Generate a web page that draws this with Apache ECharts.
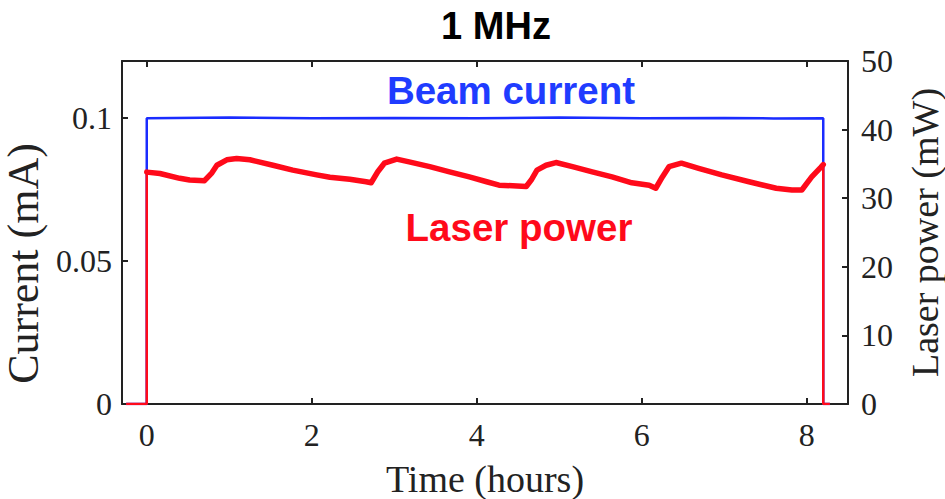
<!DOCTYPE html>
<html>
<head>
<meta charset="utf-8">
<script src="https://cdn.jsdelivr.net/npm/echarts@6/dist/echarts.min.js"></script>
<style>html,body{margin:0;padding:0;background:#fff}#c{width:945px;height:499px}</style>
</head>
<body>
<div id="c"></div>
<script>
// ---- data ----
var xTickValues = [0, 2, 4, 6, 8];
var currentTickValues = [0, 0.05, 0.1];
var powerTickValues = [0, 10, 20, 30, 40, 50];

var beamTime = [-0.25, 0, 0, 1.0, 2.0, 3.0, 4.0, 5.0, 6.0, 7.0, 7.6, 8.2, 8.2, 8.28];
var beamCurrent = [0, 0, 0.1, 0.1002, 0.1, 0.1001, 0.1, 0.1002, 0.1, 0.1001, 0.0999, 0.1, 0, 0];

var laserTime = [-0.25, 0, 0, 0.16, 0.40, 0.52, 0.70, 0.79, 0.85, 0.97, 1.09, 1.25, 1.53, 1.77, 2.06, 2.22, 2.46, 2.66, 2.72, 2.80, 2.88, 3.03, 3.18, 3.43, 3.67, 3.91, 4.12, 4.27, 4.60, 4.66, 4.73, 4.84, 4.96, 5.16, 5.40, 5.64, 5.88, 6.09, 6.17, 6.25, 6.33, 6.48, 6.69, 6.97, 7.30, 7.63, 7.82, 7.94, 8.06, 8.17, 8.20, 8.20, 8.28];
var laserPower = [0, 0, 33.8, 33.6, 32.9, 32.65, 32.55, 33.7, 34.8, 35.6, 35.8, 35.6, 34.8, 34.1, 33.4, 33.05, 32.75, 32.4, 32.25, 33.85, 35.1, 35.7, 35.3, 34.6, 33.85, 33.1, 32.4, 31.9, 31.7, 32.65, 34.1, 34.8, 35.2, 34.6, 33.85, 33.1, 32.25, 31.9, 31.45, 33.1, 34.6, 35.1, 34.35, 33.4, 32.4, 31.45, 31.2, 31.2, 33.1, 34.5, 34.9, 0, 0];

function pairs(xs, ys) { return xs.map(function (x, i) { return [x, ys[i]]; }); }
var laserAll = pairs(laserTime, laserPower);
var laserMain = laserAll.slice(2, laserAll.length - 2);
var laserRise = laserAll.slice(0, 3);
var laserFall = laserAll.slice(laserAll.length - 3);

var serif = 'Liberation Serif';
var sans = 'Liberation Sans';
var axisColor = '#222';
var red = '#ff0a1a';

var chart = echarts.init(document.getElementById('c'), null, { renderer: 'svg' });
chart.setOption({
  animation: false,
  backgroundColor: '#fff',
  grid: { left: 122, right: 97, top: 61, bottom: 95, show: false, containLabel: false, outerBoundsMode: 'none' },
  xAxis: [{
    type: 'value', min: -0.3, max: 8.5, position: 'bottom',
    name: 'Time (hours)', nameLocation: 'middle', nameGap: 56,
    nameTextStyle: { fontFamily: serif, fontSize: 38, color: '#222' },
    axisLine: { show: true, onZero: false, lineStyle: { color: axisColor, width: 2 } },
    axisTick: { show: true, inside: true, length: 6, customValues: xTickValues, lineStyle: { color: axisColor, width: 2 } },
    axisLabel: { customValues: xTickValues, fontFamily: serif, fontSize: 32, color: '#222', margin: 15 },
    splitLine: { show: false }
  }, {
    type: 'value', min: -0.3, max: 8.5, position: 'top',
    axisLine: { show: true, onZero: false, lineStyle: { color: axisColor, width: 2 } },
    axisTick: { show: true, inside: true, length: 6, customValues: xTickValues, lineStyle: { color: axisColor, width: 2 } },
    axisLabel: { show: false },
    splitLine: { show: false }
  }],
  yAxis: [{
    type: 'value', min: 0, max: 0.12, position: 'left',
    name: 'Current (mA)', nameLocation: 'middle', nameGap: 60, nameRotate: 90,
    nameTextStyle: { fontFamily: serif, fontSize: 44, color: '#222', padding: [0, 62, 0, 0] },
    axisLine: { show: true, onZero: false, lineStyle: { color: axisColor, width: 2 } },
    axisTick: { show: true, inside: true, length: 6, customValues: currentTickValues, lineStyle: { color: axisColor, width: 2 } },
    axisLabel: { customValues: currentTickValues, fontFamily: serif, fontSize: 32, color: '#222', margin: 10,
      formatter: function (v) { return v === 0 ? '0' : String(+v.toFixed(3)); } },
    splitLine: { show: false }
  }, {
    type: 'value', min: 0, max: 50, position: 'right',
    name: 'Laser power (mW)', nameLocation: 'middle', nameGap: 58, nameRotate: 90,
    nameTextStyle: { fontFamily: serif, fontSize: 38, color: '#222' },
    axisLine: { show: true, onZero: false, lineStyle: { color: axisColor, width: 2 } },
    axisTick: { show: true, inside: true, length: 6, customValues: powerTickValues, lineStyle: { color: axisColor, width: 2 } },
    axisLabel: { customValues: powerTickValues, fontFamily: serif, fontSize: 32, color: '#222', margin: 13 },
    splitLine: { show: false }
  }],
  series: [{
    type: 'line', name: 'Beam current', xAxisIndex: 0, yAxisIndex: 0,
    data: pairs(beamTime, beamCurrent), showSymbol: false, symbol: 'none',
    lineStyle: { color: '#1a2cff', width: 2.5 }, z: 2
  }, {
    type: 'line', name: 'Laser power', xAxisIndex: 0, yAxisIndex: 1,
    data: laserMain, showSymbol: false, symbol: 'none',
    lineStyle: { color: red, width: 5.5, join: 'round', cap: 'round' }, z: 3
  }, {
    type: 'line', name: 'Laser power rise', xAxisIndex: 0, yAxisIndex: 1,
    data: laserRise, showSymbol: false, symbol: 'none',
    lineStyle: { color: red, width: 2.5 }, z: 3
  }, {
    type: 'line', name: 'Laser power fall', xAxisIndex: 0, yAxisIndex: 1,
    data: laserFall, showSymbol: false, symbol: 'none',
    lineStyle: { color: red, width: 2.5 }, z: 3
  }],
  graphic: [
    { type: 'text', style: { text: '1 MHz', x: 496, y: 26, align: 'center', verticalAlign: 'middle', textAlign: 'center', textVerticalAlign: 'middle', fontFamily: sans, fontWeight: 'bold', fontSize: 38, fill: '#000' } },
    { type: 'text', style: { text: 'Beam current', x: 511, y: 90, align: 'center', verticalAlign: 'middle', textAlign: 'center', textVerticalAlign: 'middle', fontFamily: sans, fontWeight: 'bold', fontSize: 38.5, fill: '#1f3cff' } },
    { type: 'text', style: { text: 'Laser power', x: 519, y: 227, align: 'center', verticalAlign: 'middle', textAlign: 'center', textVerticalAlign: 'middle', fontFamily: sans, fontWeight: 'bold', fontSize: 38.5, fill: red } }
  ]
});
</script>
</body>
</html>
